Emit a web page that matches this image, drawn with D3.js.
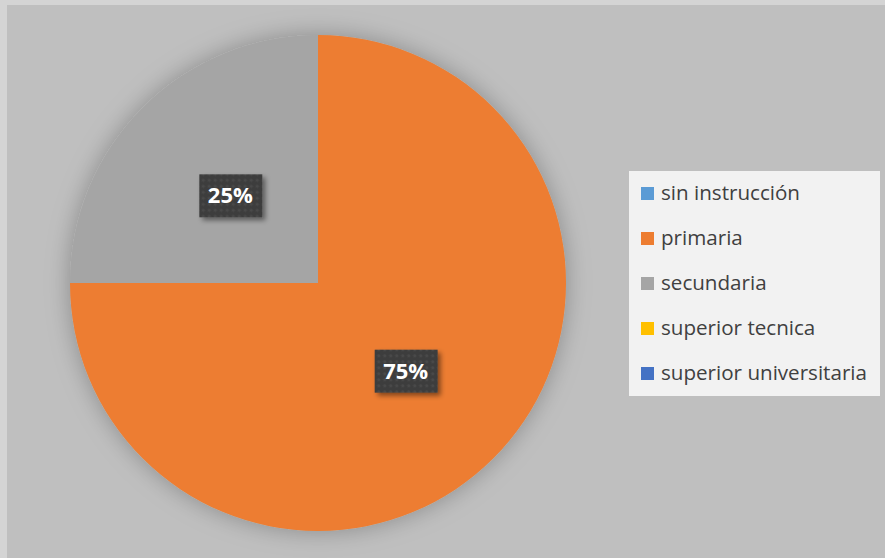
<!DOCTYPE html>
<html>
<head>
<meta charset="utf-8">
<script src="https://cdn.jsdelivr.net/npm/d3@7"></script>
<style>
  html, body { margin: 0; padding: 0; background: #d4d4d4; }
  svg { display: block; }
</style>
</head>
<body>
<div id="chart"></div>
<script>
// Education level distribution
const categories = ["sin instrucción", "primaria", "secundaria", "superior tecnica", "superior universitaria"];
const values = [0, 75, 25, 0, 0];
const colors = ["#5b9bd5", "#ed7d31", "#a5a5a5", "#ffc000", "#4472c4"];

const W = 885, H = 558;
const svg = d3.select("#chart").append("svg").attr("width", W).attr("height", H);

const defs = svg.append("defs");
const pieShadow = defs.append("filter").attr("id", "pieShadow")
  .attr("x", "-20%").attr("y", "-20%").attr("width", "140%").attr("height", "140%");
pieShadow.append("feDropShadow").attr("dx", 0).attr("dy", 0)
  .attr("stdDeviation", 12).attr("flood-color", "#000").attr("flood-opacity", 0.28);

const boxShadow = defs.append("filter").attr("id", "boxShadow")
  .attr("x", "-30%").attr("y", "-30%").attr("width", "160%").attr("height", "160%");
boxShadow.append("feDropShadow").attr("dx", 3).attr("dy", 3)
  .attr("stdDeviation", 2.5).attr("flood-color", "#000").attr("flood-opacity", 0.45);

const dots = defs.append("pattern").attr("id", "dots")
  .attr("width", 6).attr("height", 6).attr("patternUnits", "userSpaceOnUse");
dots.append("rect").attr("width", 6).attr("height", 6).attr("fill", "#3d3d3d");
dots.append("circle").attr("cx", 3).attr("cy", 3).attr("r", 1.6).attr("fill", "#4a4a4a");

// chart area
svg.append("rect").attr("x", 7).attr("y", 5).attr("width", W - 7).attr("height", H - 5)
  .attr("fill", "#bfbfbf");

const cx = 318, cy = 283, r = 248;
const pie = d3.pie().sort(null).value(d => d.value);
const arcs = pie(categories.map((c, i) => ({ name: c, value: values[i], color: colors[i] })));
const arc = d3.arc().innerRadius(0).outerRadius(r);
const labelArc = d3.arc().innerRadius(r / 2).outerRadius(r / 2);

const g = svg.append("g").attr("transform", `translate(${cx},${cy})`);
g.append("g").attr("filter", "url(#pieShadow)")
  .selectAll("path").data(arcs.filter(d => d.data.value > 0)).join("path")
  .attr("d", arc).attr("fill", d => d.data.color);

const lbl = g.selectAll("g.lbl").data(arcs.filter(d => d.data.value > 0)).join("g")
  .attr("class", "lbl")
  .attr("transform", d => `translate(${labelArc.centroid(d)})`);
lbl.append("rect").attr("x", -31).attr("y", -21).attr("width", 63).attr("height", 43)
  .attr("fill", "url(#dots)").attr("filter", "url(#boxShadow)");
lbl.append("text").attr("text-anchor", "middle").attr("dy", "0.36em")
  .attr("font-family", "'Open Sans', Lato, sans-serif").attr("font-weight", "bold")
  .attr("font-size", 22).attr("fill", "#ffffff")
  .text(d => d.data.value + "%");

// legend
const lg = svg.append("g");
lg.append("rect").attr("x", 629).attr("y", 171).attr("width", 251).attr("height", 225)
  .attr("fill", "#f2f2f2");
const items = lg.selectAll("g.item").data(categories).join("g").attr("class", "item")
  .attr("transform", (d, i) => `translate(641, ${187 + i * 45})`);
items.append("rect").attr("width", 13).attr("height", 13).attr("fill", (d, i) => colors[i]);
items.append("text").attr("x", 20).attr("y", 12.5)
  .attr("font-family", "'Open Sans', Lato, sans-serif").attr("font-size", 20.6)
  .attr("fill", "#404040").text(d => d);
</script>
</body>
</html>
